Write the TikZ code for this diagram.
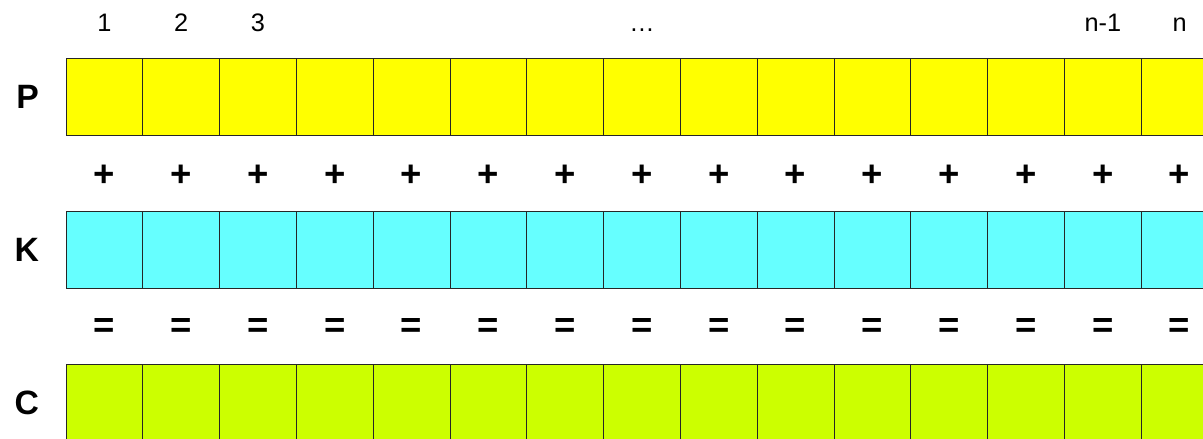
\documentclass[tikz,border=0pt]{standalone}
\usepackage{fontspec}
\setmainfont{Liberation Sans}
\usetikzlibrary{positioning, calc}
\definecolor{PlainYellow}{HTML}{FFFF00}
\definecolor{KeyCyan}{HTML}{66FFFF}
\definecolor{CipherLime}{HTML}{CCFF00}
\definecolor{CellEdge}{HTML}{262626}
\tikzset{
    cell/.style={
        draw=CellEdge,
        fill=#1,
        line width=0.7pt,
        minimum size=1.92cm,
        inner sep=0pt,
        outer sep=0pt
    },
    cell/.default=PlainYellow,
    rowname/.style={
        font=\fontsize{24}{28}\selectfont\bfseries,
        inner sep=0pt
    },
    opsign/.style={
        font=\fontsize{26}{30}\selectfont\bfseries,
        inner sep=0pt,
        yshift=-0.05cm
    },
    index/.style={
        font=\fontsize{18}{21}\selectfont,
        inner sep=0pt
    }
}

\begin{document}
\begin{tikzpicture}[node distance=1.9cm]
        \useasboundingbox (0,0) rectangle (30.075,-10.975);

        % First column
        \node[cell=PlainYellow] (P1) at (2.61,-2.425) {};
        \node[cell=KeyCyan, below=of P1] (K1) {};
        \node[cell=CipherLime, below=of K1] (C1) {};

        % Remaining columns
        \foreach \i [count=\j from 1] in {2,...,15} {
            \node[cell=PlainYellow, right=0pt of P\j] (P\i) {};
            \node[cell=KeyCyan, right=0pt of K\j] (K\i) {};
            \node[cell=CipherLime, right=0pt of C\j] (C\i) {};
        }

        % Signs between the rows
        \foreach \i in {1,...,15} {
            \node[opsign] (plus\i) at ($(P\i.south)!0.5!(K\i.north)$) {+};
            \node[opsign] (eq\i) at ($(K\i.south)!0.5!(C\i.north)$) {=};
        }

        % Row names
        \node[rowname, left=0.67cm of P1] (nameP) {P};
        \node[rowname, left=0.67cm of K1] (nameK) {K};
        \node[rowname, left=0.67cm of C1] (nameC) {C};

        % Positions
        \node[index, above=0.67cm of P1] (idx1) {1};
        \node[index, above=0.67cm of P2] (idx2) {2};
        \node[index, above=0.67cm of P3] (idx3) {3};
        \node[index, above=0.67cm of P8] (idxdots) {…};
        \node[index, above=0.67cm of P14] (idxnm) {n-1};
        \node[index, above=0.67cm of P15] (idxn) {n};
    \end{tikzpicture}
\end{document}
